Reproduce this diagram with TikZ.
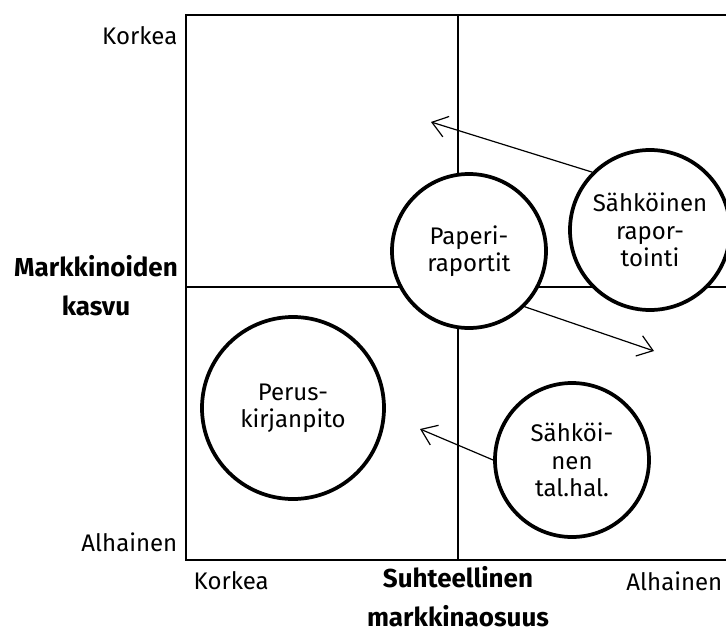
\documentclass[tikz,border=0pt]{standalone}
\usepackage{fontspec}
\setmainfont{Fira Sans}
\usetikzlibrary{arrows.meta}

\begin{document}
\begin{tikzpicture}[
  x=0.75pt, y=-0.75pt,
  every node/.style={font=\fontsize{18}{20.5}\selectfont},
  frameline/.style={line width=1.1pt},
  unit/.style={draw, circle, fill=white, line width=2.8pt, align=center, inner sep=0pt},
  move/.style={line width=0.9pt, -{Straight Barb[length=11pt,width=16pt]}},
  axislabel/.style={font=\bfseries\fontsize{19.5}{29}\selectfont, align=center},
]
\useasboundingbox (0,0) rectangle (726,632);

% matrix
\draw [frameline] (186,15) rectangle (730,560);
\draw [frameline] (458,15) -- (458,560);
\draw [frameline] (186,287) -- (730,287);

% axes
\node [anchor=east] (yhigh) at (182,36) {Korkea};
\node [anchor=east] (ylow) at (182,542) {Alhainen};
\node [axislabel] (ylabel) at (96,286) {Markkinoiden\\kasvu};
\node [anchor=west] (xhigh) at (189,581) {Korkea};
\node [anchor=east] (xlow) at (727,581) {Alhainen};
\node [axislabel] (xlabel) at (458,597) {Suhteellinen\\markkinaosuus};

% products
\node [unit, minimum size=115.5pt] (paperi) at (469,251) {Paperi-\\raportit};
\node [unit, minimum size=120pt] (sahkrap) at (650,230) {Sähköinen\\rapor-\\tointi};
\node [unit, minimum size=136.5pt] (perus) at (293,408) {Perus-\\kirjanpito};
\node [unit, minimum size=115.5pt] (talhal) at (572,460) {Sähköi-\\nen\\tal.hal.};

\coordinate (tipA) at (431,122);
\coordinate (tipB) at (654,351);
\coordinate (tipC) at (420,429);

\draw [move] (sahkrap.135) -- (tipA);
\draw [move] (paperi.-45) -- (tipB);
\draw [move] (talhal.180) -- (tipC);

\end{tikzpicture}
\end{document}
